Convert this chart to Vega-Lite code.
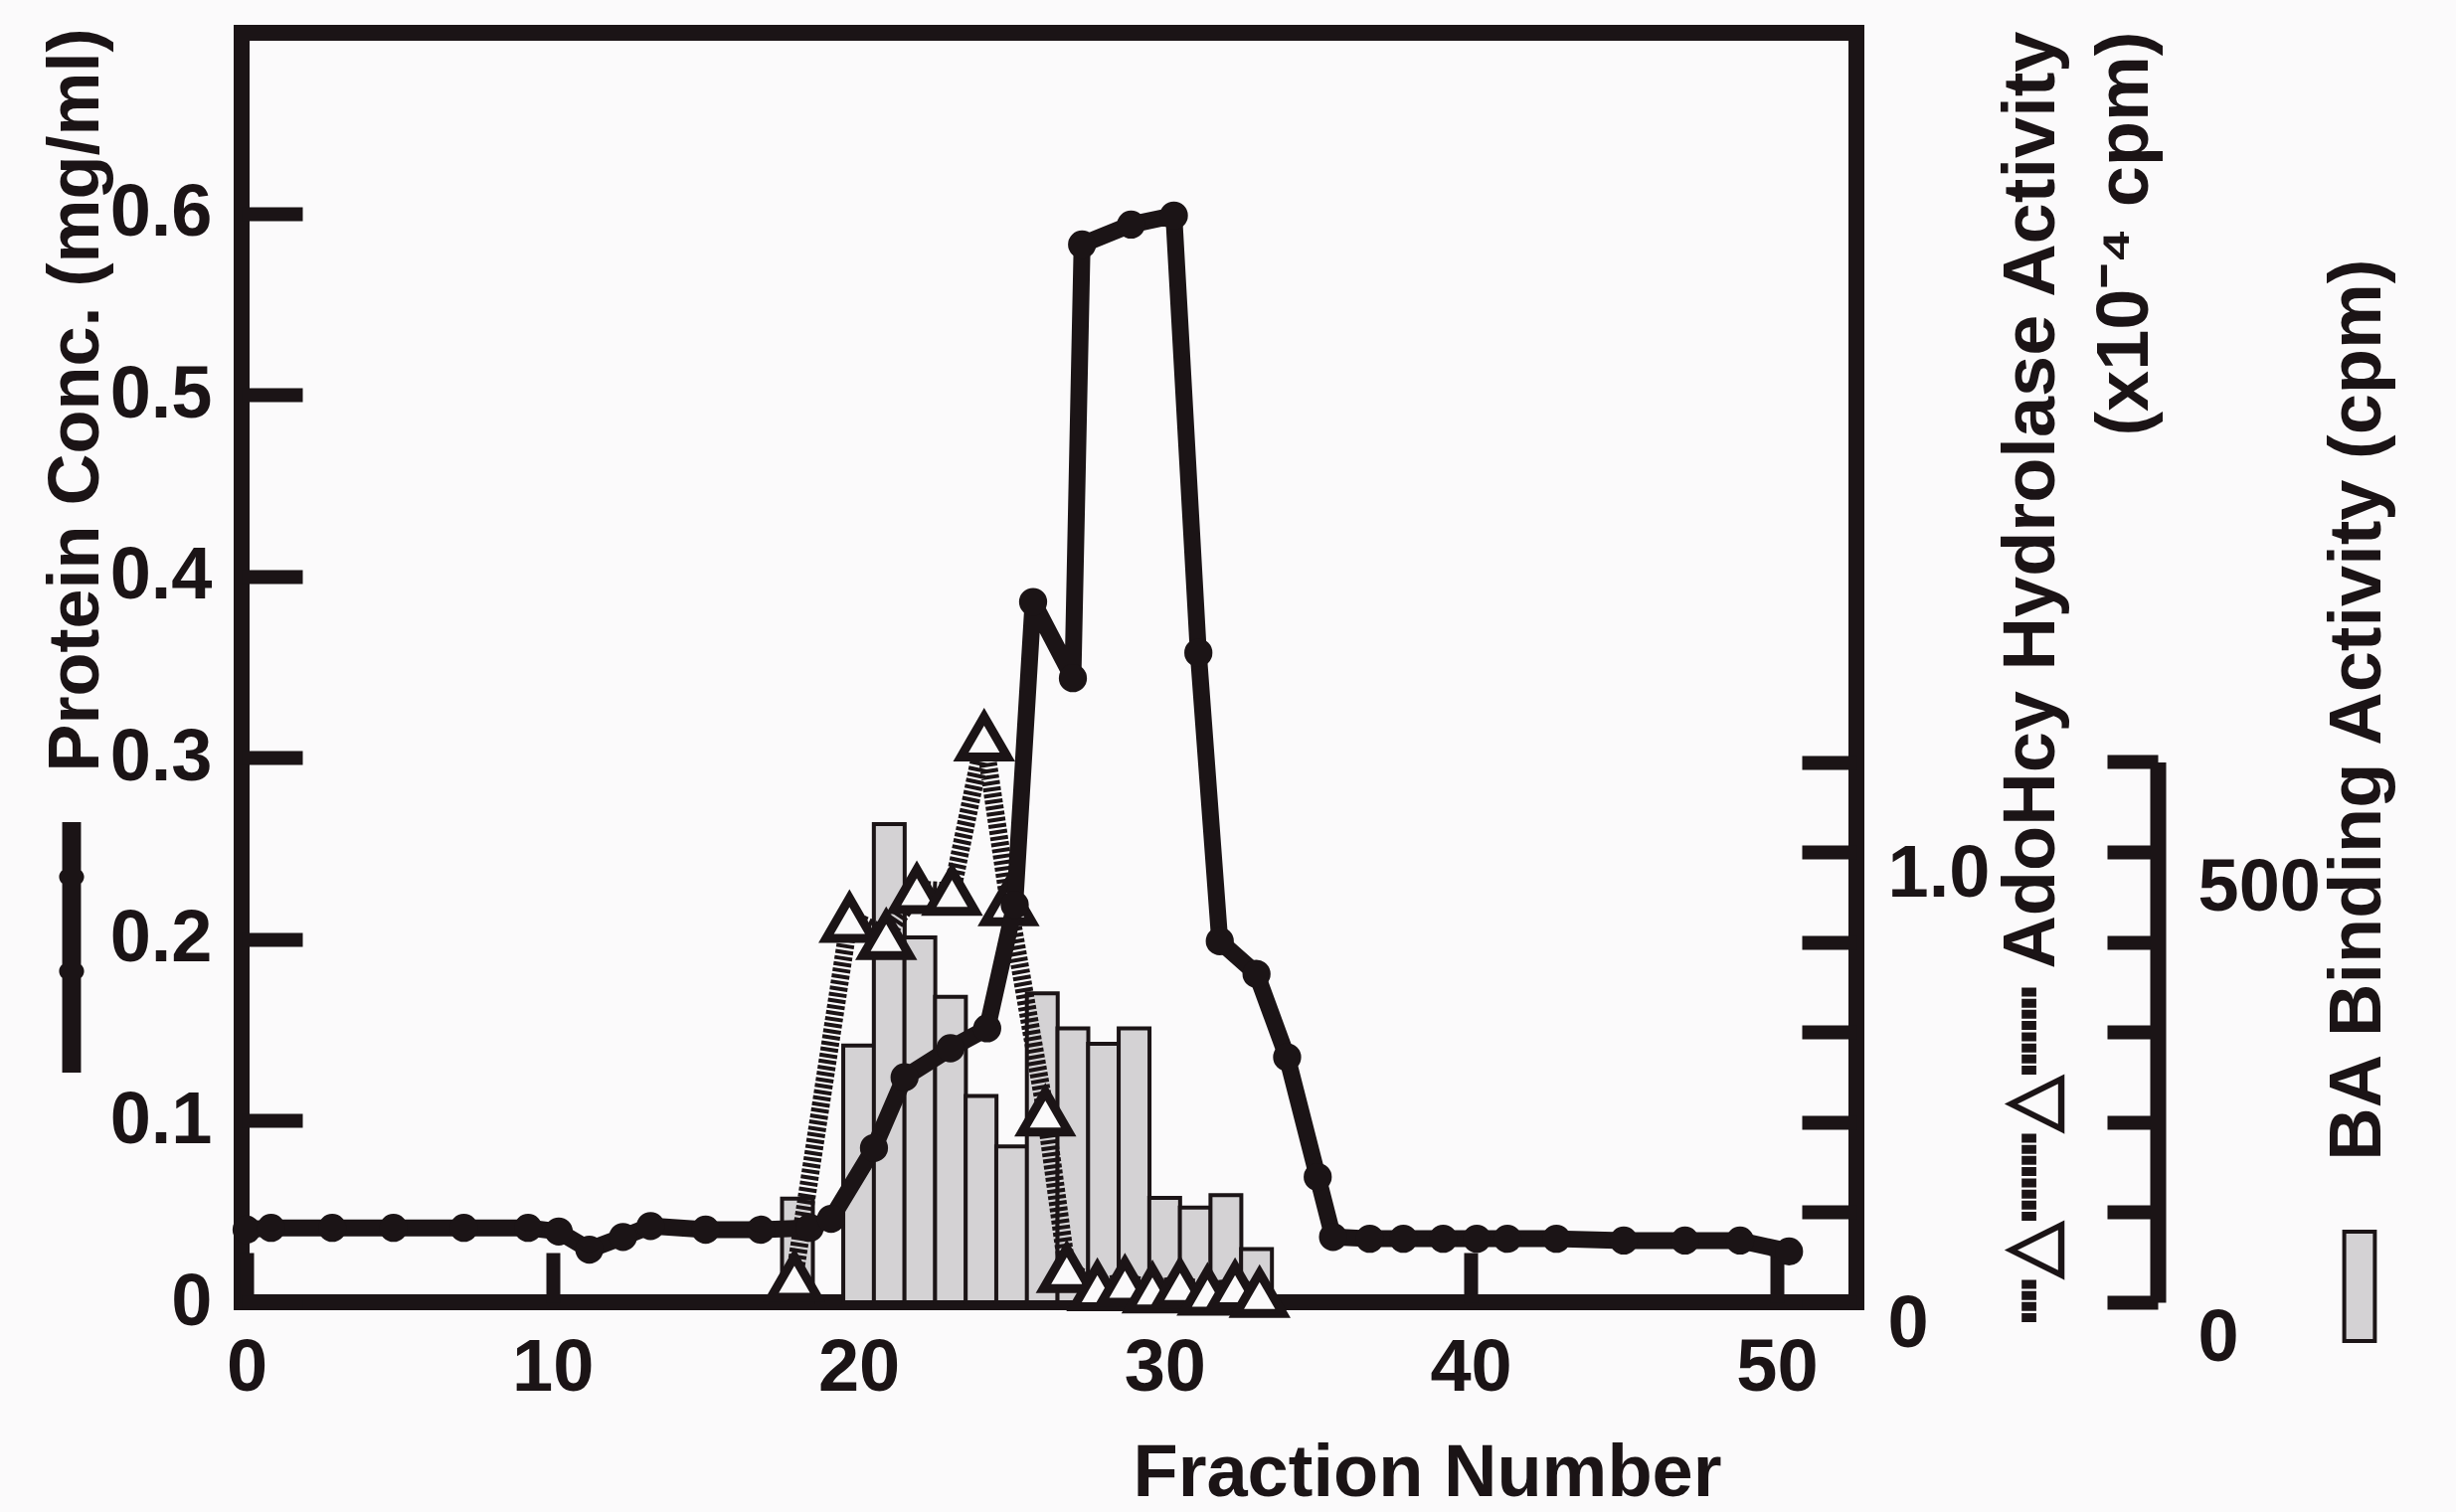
{
  "$schema": "https://vega.github.io/schema/vega-lite/v6.json",
  "width": 1624,
  "height": 1277,
  "autosize": "none",
  "padding": {"left": 243, "top": 33, "right": 603, "bottom": 211},
  "background": "#fbfafb",
  "config": {
    "view": {"stroke": "#1b1416", "strokeWidth": 16, "fill": null},
    "font": "Liberation Sans",
    "legend": {"padding": 0, "offset": 0, "symbolOffset": 0, "labelOffset": 0, "title": null, "labelFontSize": 1},
    "axis": {
      "domain": false,
      "grid": false,
      "labelFont": "Liberation Sans",
      "labelFontWeight": "bold",
      "labelFontSize": 74,
      "labelColor": "#1b1416",
      "tickColor": "#1b1416",
      "tickCap": "butt",
      "titleFont": "Liberation Sans",
      "titleFontWeight": "bold",
      "titleFontSize": 74,
      "titleColor": "#1b1416",
      "labelOverlap": false,
      "labelBound": false,
      "labelFlush": false
    }
  },
  "datasets": {
    "protein": [
      {"fraction": 0, "conc": 0.040}, {"fraction": 0.8, "conc": 0.041}, {"fraction": 2.8, "conc": 0.041},
      {"fraction": 4.8, "conc": 0.041}, {"fraction": 7.1, "conc": 0.041}, {"fraction": 9.2, "conc": 0.041},
      {"fraction": 10.2, "conc": 0.039}, {"fraction": 11.2, "conc": 0.029}, {"fraction": 12.3, "conc": 0.036},
      {"fraction": 13.2, "conc": 0.042}, {"fraction": 15.0, "conc": 0.040}, {"fraction": 16.8, "conc": 0.040},
      {"fraction": 18.4, "conc": 0.041}, {"fraction": 19.1, "conc": 0.046}, {"fraction": 20.5, "conc": 0.085},
      {"fraction": 21.5, "conc": 0.124}, {"fraction": 23.0, "conc": 0.140}, {"fraction": 24.2, "conc": 0.151},
      {"fraction": 25.1, "conc": 0.219}, {"fraction": 25.7, "conc": 0.386}, {"fraction": 27.0, "conc": 0.344},
      {"fraction": 27.3, "conc": 0.583}, {"fraction": 28.9, "conc": 0.594}, {"fraction": 30.3, "conc": 0.599},
      {"fraction": 31.1, "conc": 0.358}, {"fraction": 31.8, "conc": 0.199}, {"fraction": 33.0, "conc": 0.181},
      {"fraction": 34.0, "conc": 0.135}, {"fraction": 35.0, "conc": 0.069}, {"fraction": 35.5, "conc": 0.036},
      {"fraction": 36.7, "conc": 0.035}, {"fraction": 37.8, "conc": 0.035}, {"fraction": 39.1, "conc": 0.035},
      {"fraction": 40.2, "conc": 0.035}, {"fraction": 41.2, "conc": 0.035}, {"fraction": 42.8, "conc": 0.035},
      {"fraction": 45.0, "conc": 0.034}, {"fraction": 47.0, "conc": 0.034}, {"fraction": 48.8, "conc": 0.034},
      {"fraction": 50.4, "conc": 0.028}
    ],
    "adohcy": [
      {"fraction": 17.9, "activity": 0.056}, {"fraction": 19.7, "activity": 0.853}, {"fraction": 20.9, "activity": 0.815},
      {"fraction": 21.9, "activity": 0.917}, {"fraction": 23.05, "activity": 0.913}, {"fraction": 24.1, "activity": 1.256},
      {"fraction": 24.9, "activity": 0.89}, {"fraction": 26.1, "activity": 0.423}, {"fraction": 26.8, "activity": 0.075},
      {"fraction": 27.8, "activity": 0.035}, {"fraction": 28.7, "activity": 0.045}, {"fraction": 29.6, "activity": 0.03},
      {"fraction": 30.5, "activity": 0.04}, {"fraction": 31.4, "activity": 0.025}, {"fraction": 32.3, "activity": 0.035},
      {"fraction": 33.1, "activity": 0.02}
    ],
    "ba": [
      {"fraction": 18, "cpm": 115}, {"fraction": 20, "cpm": 285}, {"fraction": 21, "cpm": 531},
      {"fraction": 22, "cpm": 405}, {"fraction": 23, "cpm": 339}, {"fraction": 24, "cpm": 229},
      {"fraction": 25, "cpm": 173}, {"fraction": 26, "cpm": 343}, {"fraction": 27, "cpm": 304},
      {"fraction": 28, "cpm": 287}, {"fraction": 29, "cpm": 304}, {"fraction": 30, "cpm": 116},
      {"fraction": 31, "cpm": 105}, {"fraction": 32, "cpm": 119}, {"fraction": 33, "cpm": 59}
    ]
  },
  "encoding": {
    "x": {
      "field": "fraction",
      "type": "quantitative",
      "scale": {"domain": [0, 52.44], "nice": false, "zero": false},
      "axis": {
        "values": [0, 10, 20, 30, 40, 50],
        "tickSize": -50,
        "tickWidth": 14,
        "labelPadding": 80,
        "labelBaseline": "top",
        "title": "Fraction Number",
        "titleX": 1192,
        "titleY": 194,
        "titleAlign": "center",
        "titleBaseline": "alphabetic",
        "titleAnchor": null
      }
    }
  },
  "layer": [
    {
      "data": {"name": "ba"},
      "mark": {"type": "bar", "width": 31, "stroke": "#1b1416", "strokeWidth": 4},
      "encoding": {
        "y": {
          "field": "cpm",
          "type": "quantitative",
          "scale": {"domain": [0, 600], "range": [1277, 733.4], "nice": false},
          "axis": {
            "orient": "right",
            "offset": 303,
            "domain": true,
            "domainWidth": 16,
            "domainColor": "#1b1416",
            "domainCap": "butt",
            "values": [0, 100, 200, 300, 400, 500, 600],
            "tickSize": -51,
            "tickWidth": 14,
            "labelPadding": 91,
            "labelAlign": "left",
            "labelBaseline": "middle",
            "labelOffset": 36,
            "labelExpr": "datum.value == 0 || datum.value == 500 ? datum.label : ''",
            "title": "BA Binding Activity (cpm)",
            "titleAngle": 270,
            "titleAlign": "right",
            "titleBaseline": "middle",
            "titleAnchor": null,
            "titleX": 201,
            "titleY": 227
          }
        },
        "fill": {
          "datum": "BA Binding Activity",
          "type": "nominal",
          "scale": {"range": ["#d4d2d4"]},
          "legend": {
            "orient": "none",
            "legendX": 2073,
            "legendY": 1204,
            "labelExpr": "''",
            "symbolType": "M-0.28,-1H0.28V1H-0.28Z",
            "symbolSize": 12100,
            "symbolStrokeColor": "#1b1416",
            "symbolStrokeWidth": 4,
            "symbolOpacity": 1
          }
        }
      }
    },
    {
      "data": {"name": "adohcy"},
      "encoding": {
        "y": {
          "field": "activity",
          "type": "quantitative",
          "scale": {"domain": [0, 2.82], "nice": false},
          "axis": {
            "orient": "right",
            "values": [0, 0.2, 0.4, 0.6, 0.8, 1.0, 1.2],
            "tickSize": -55,
            "tickWidth": 14,
            "labelPadding": 86,
            "labelAlign": "left",
            "labelBaseline": "middle",
            "labelOffset": 22,
            "labelExpr": "datum.value == 0 ? '0' : (abs(datum.value - 1) < 0.001 ? '1.0' : '')",
            "title": ["┉△┉┉△┉┉  AdoHcy Hydrolase Activity", "(x10⁻⁴ cpm)"],
            "titleAngle": 270,
            "titleAlign": "right",
            "titleBaseline": "middle",
            "titleAnchor": null,
            "titleLineHeight": 94,
            "titleX": 176,
            "titleY": -2
          }
        }
      },
      "layer": [
        {"mark": {"type": "line", "stroke": "#1b1416", "strokeWidth": 18, "strokeDash": [4, 2.2]}},
        {"mark": {"type": "point", "shape": "triangle-up", "size": 2200, "filled": true, "fill": "#fbfafb", "stroke": "#1b1416", "strokeWidth": 9, "opacity": 1}}
      ]
    },
    {
      "data": {"name": "protein"},
      "encoding": {
        "y": {
          "field": "conc",
          "type": "quantitative",
          "scale": {"domain": [0, 0.6997], "nice": false},
          "axis": {
            "orient": "left",
            "values": [0, 0.1, 0.2, 0.3, 0.4, 0.5, 0.6],
            "tickSize": -61,
            "tickWidth": 14,
            "labelPadding": 91,
            "labelAlign": "right",
            "labelBaseline": "middle",
            "labelExpr": "datum.value == 0 ? '0' : format(datum.value, '.1f')",
            "title": "Protein Conc. (mg/ml)",
            "titleFontSize": 72,
            "titleAngle": 270,
            "titleAlign": "right",
            "titleBaseline": "middle",
            "titleAnchor": null,
            "titleX": -167,
            "titleY": -5
          }
        }
      },
      "layer": [
        {"mark": {"type": "line", "stroke": "#1b1416", "strokeWidth": 17, "strokeJoin": "round", "strokeCap": "round"}},
        {
          "mark": {"type": "point", "size": 800, "filled": true, "opacity": 1},
          "encoding": {
            "fill": {
              "datum": "Protein Conc.",
              "type": "nominal",
              "scale": {"range": ["#1b1416"]},
              "legend": {
                "orient": "none",
                "legendX": -297,
                "legendY": 794,
                "labelExpr": "''",
                "symbolType": "M-0.075,-1H0.075V1H-0.075Z M-0.1,-0.563A0.1,0.08 0 1,1 0.1,-0.563A0.1,0.08 0 1,1 -0.1,-0.563Z M-0.1,0.19A0.1,0.08 0 1,1 0.1,0.19A0.1,0.08 0 1,1 -0.1,0.19Z",
                "symbolSize": 63504,
                "symbolStrokeWidth": 0,
                "symbolOpacity": 1
              }
            }
          }
        }
      ]
    }
  ],
  "resolve": {
    "scale": {"y": "independent", "fill": "independent"},
    "axis": {"y": "independent"}
  }
}
